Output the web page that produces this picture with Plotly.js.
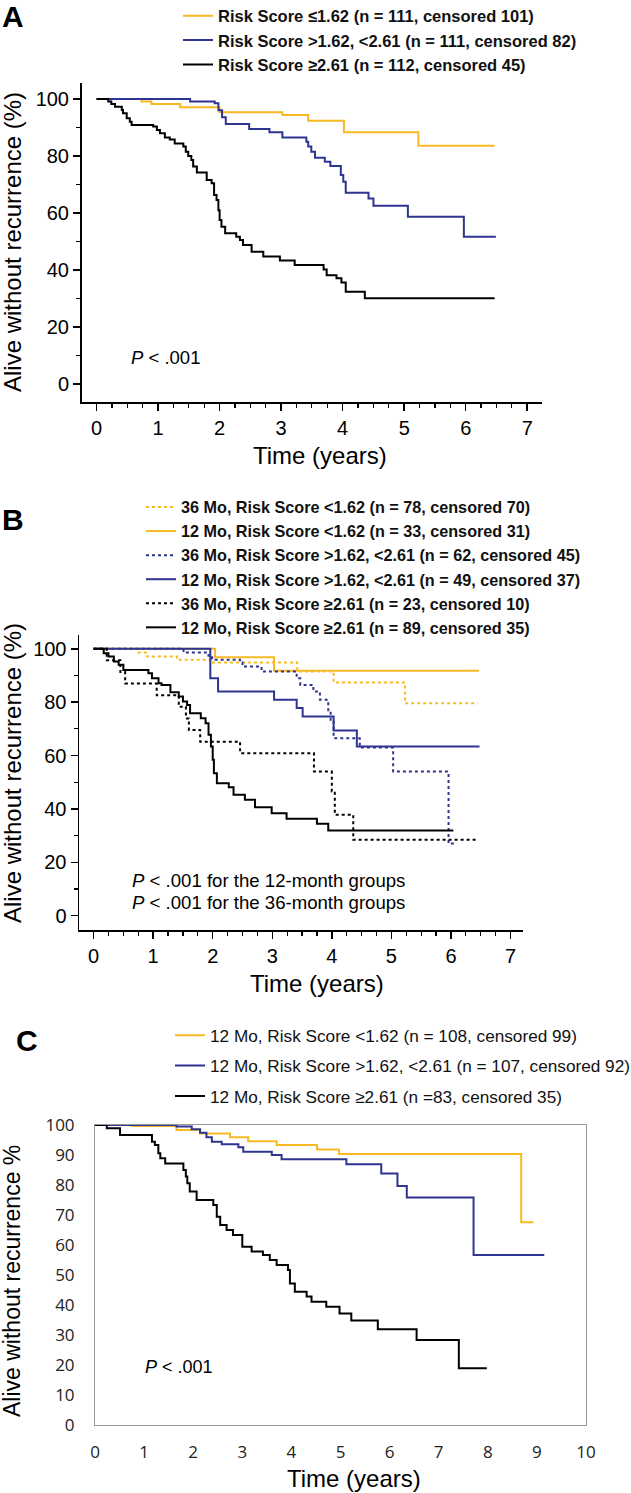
<!DOCTYPE html>
<html><head><meta charset="utf-8">
<script src="https://cdn.plot.ly/plotly-3.0.1.min.js"></script>
<style>html,body{margin:0;padding:0;background:#fff}#chart{width:631px;height:1493px}</style>
</head><body><div id="chart"></div>
<script>
// ---------- Panel A ----------
const A_lowT  = [0,0.73,0.89,1.36,2.0,3.02,3.44,4.02,5.23,6.47];
const A_lowS  = [100,99.1,98.2,97.1,95.3,94.4,92.4,88.3,83.6,83.6];
const A_midT  = [0,1.52,1.92,1.98,2.04,2.1,2.48,2.81,3.02,3.41,3.44,3.49,3.55,3.71,3.8,3.97,4.01,4.05,4.42,4.5,5.06,5.97,6.49];
const A_midS  = [100,99.1,98.5,96.0,93.6,91.2,89.5,88.3,86.5,85,83.3,81.5,79.4,78,76.5,73.3,71,67.1,65.1,62.5,58.7,51.7,51.7];
const A_highT = [0,0.19,0.24,0.3,0.41,0.43,0.49,0.54,0.57,0.92,0.98,1.03,1.11,1.19,1.27,1.41,1.45,1.49,1.54,1.57,1.63,1.79,1.87,1.91,1.95,1.98,2.0,2.03,2.09,2.27,2.33,2.38,2.52,2.71,2.98,3.22,3.69,3.74,3.9,3.98,4.05,4.36,6.47];
const A_highS = [100,99.1,98.2,97.3,96.1,95,93.2,92,90.9,90.3,89.1,88,86.5,85.8,84.4,83.3,81.5,80,78.6,76.3,74.2,71.6,70.4,66.3,64.6,61,57.5,55.2,52.9,51.7,50.5,48.8,46.4,44.7,43.3,41.8,40.2,38.2,37.1,35.6,32.4,30.1,30.1];
const A_names = ["Risk Score ≤1.62 (n = 111, censored 101)",
                 "Risk Score &gt;1.62, &lt;2.61 (n = 111, censored 82)",
                 "Risk Score ≥2.61 (n = 112, censored 45)"];
const A_xTicks = [0,1,2,3,4,5,6,7];
const A_yTicks = [0,20,40,60,80,100];

// ---------- Panel B ----------
const B_low36T  = [0,0.75,0.9,1.4,1.96,3.42,4.03,5.23,6.45];
const B_low36S  = [100,98.6,97.1,95.9,94.9,91.5,87.4,79.6,79.6];
const B_low12T  = [0,2.04,3.03,6.47];
const B_low12S  = [100,96.9,91.8,91.8];
const B_mid36T  = [0,1.51,1.93,1.99,2.46,2.5,2.82,3.41,3.47,3.69,3.8,3.94,3.98,4.03,4.47,5.03,5.96,6.05];
const B_mid36S  = [100,98.6,97.4,95.9,94.9,93.4,91.5,89,86.5,84,80.9,76.5,72.8,66.5,63,54,27,27];
const B_mid12T  = [0,1.96,2.09,3.03,3.41,3.51,4.03,4.42,6.48];
const B_mid12S  = [100,89.0,84.0,80.9,77.8,74.6,69.4,63.4,63.4];
const B_high36T = [0,0.22,0.45,0.53,1.06,1.43,1.55,1.6,1.79,2.46,3.7,4.0,4.05,4.36,6.46];
const B_high36S = [100,95.7,91.3,87.0,82.6,78.3,73.9,69.6,65.2,60.9,54.0,46.5,37.8,28.4,28.4];
const B_high12T = [0,0.17,0.25,0.34,0.42,0.5,0.92,0.98,1.09,1.14,1.29,1.43,1.5,1.57,1.62,1.8,1.88,1.93,1.97,2.0,2.02,2.07,2.27,2.35,2.54,2.71,2.99,3.24,3.75,3.94,6.04];
const B_high12S = [100,98.4,97.1,95.3,94,92.1,90.9,89,87.1,86.5,83.7,82.1,80.3,79,75.9,74,72.1,67.8,63.4,58.4,53.4,49.6,48.1,45.3,43.4,40.6,38.4,36.3,34.4,31.9,31.9];
const B_names = ["36 Mo, Risk Score &lt;1.62 (n = 78, censored 70)",
                 "12 Mo, Risk Score &lt;1.62 (n = 33, censored 31)",
                 "36 Mo, Risk Score &gt;1.62, &lt;2.61 (n = 62, censored 45)",
                 "12 Mo, Risk Score &gt;1.62, &lt;2.61 (n = 49, censored 37)",
                 "36 Mo, Risk Score ≥2.61 (n = 23, censored 10)",
                 "12 Mo, Risk Score ≥2.61 (n = 89, censored 35)"];
const B_xTicks = [0,1,2,3,4,5,6,7];
const B_yTicks = [0,20,40,60,80,100];

// ---------- Panel C ----------
const C_lowT  = [0,0.75,1.66,2.14,2.75,3.12,3.7,4.52,4.97,8.68,8.93];
const C_lowS  = [100,99.7,98.3,97.2,95.9,94.6,93.3,91.8,90.3,67.6,67.6];
const C_midT  = [0,1.66,1.97,2.14,2.27,2.38,2.58,2.92,3.02,3.6,3.8,5.12,5.83,6.16,6.35,7.71,9.15];
const C_midS  = [100,99.5,98.6,97.4,95.9,94.4,93.6,92.6,91.1,90.0,88.6,86.9,83.8,79.7,75.8,56.7,56.7];
const C_highT = [0,0.24,0.51,1.16,1.22,1.29,1.33,1.43,1.8,1.85,1.88,1.93,2.07,2.41,2.48,2.55,2.68,2.81,3.0,3.19,3.42,3.56,3.7,3.93,3.97,4.07,4.31,4.41,4.71,4.98,5.22,5.76,6.55,7.41,7.98];
const C_highS = [100,98.9,96.7,94.4,93.3,90.6,88.9,87.2,85,82.8,80.6,77.8,75,73.3,69.4,66.7,65,63.3,59.4,57.8,56.7,55,53.3,51.7,47.2,44.4,42.8,41.1,39.4,37.2,34.8,31.9,28.3,18.9,18.9];
const C_names = ["12 Mo, Risk Score &lt;1.62 (n = 108, censored 99)",
                 "12 Mo, Risk Score &gt;1.62, &lt;2.61 (n = 107, censored 92)",
                 "12 Mo, Risk Score ≥2.61 (n =83, censored 35)"];
const C_xTicks = [0,1,2,3,4,5,6,7,8,9,10];
const C_yTicks = [0,10,20,30,40,50,60,70,80,90,100];

const YEL = '#F7B924', BLU = '#2E3590', BLK = '#000000';
const ARIAL = 'Liberation Sans, Arial, sans-serif';

function km(x, y, name, color, dash, xa, ya, leg, grp) {
  return {type:'scatter', mode:'lines', x:x, y:y, name:name, xaxis:xa, yaxis:ya, legend:leg,
          legendgroup: grp || undefined,
          line:{shape:'hv', width:2, color:color, dash:dash}, hoverinfo:'skip'};
}

const data = [
  km(A_lowT, A_lowS, A_names[0], YEL, 'solid', 'x', 'y', 'legend'),
  km(A_midT, A_midS, A_names[1], BLU, 'solid', 'x', 'y', 'legend'),
  km(A_highT, A_highS, A_names[2], BLK, 'solid', 'x', 'y', 'legend'),

  km(B_low36T, B_low36S, B_names[0], YEL, 'dot', 'x2', 'y2', 'legend2'),
  km(B_low12T, B_low12S, B_names[1], YEL, 'solid', 'x2', 'y2', 'legend2'),
  km(B_mid36T, B_mid36S, B_names[2], BLU, 'dot', 'x2', 'y2', 'legend2'),
  km(B_mid12T, B_mid12S, B_names[3], BLU, 'solid', 'x2', 'y2', 'legend2'),
  km(B_high36T, B_high36S, B_names[4], BLK, 'dot', 'x2', 'y2', 'legend2'),
  km(B_high12T, B_high12S, B_names[5], BLK, 'solid', 'x2', 'y2', 'legend2'),

  km(C_lowT, C_lowS, C_names[0], YEL, 'solid', 'x3', 'y3', 'legend3', 'c1'),
  km(C_midT, C_midS, C_names[1], BLU, 'solid', 'x3', 'y3', 'legend3', 'c2'),
  km(C_highT, C_highS, C_names[2], BLK, 'solid', 'x3', 'y3', 'legend3', 'c3')
];

const W = 631, H = 1493;
const px = v => v / W;
const py = v => 1 - v / H;

function kmX(dom, rng, ticks) {
  return {domain:dom, range:rng, anchor:null, showline:true, linecolor:'#000', linewidth:1.5,
          ticks:'outside', ticklen:7, tickwidth:1.5, tickcolor:'#000',
          tickmode:'array', tickvals:ticks, ticktext:ticks.map(String),
          minor:{dtick:0.25, tick0:0, ticks:'outside', ticklen:4, tickwidth:1.2, tickcolor:'#000', showgrid:false},
          showgrid:false, zeroline:false, fixedrange:true,
          tickfont:{family:ARIAL, size:20, color:'#000'}};
}
function kmY(dom, rng, ticks) {
  return {domain:dom, range:rng, showline:true, linecolor:'#000', linewidth:1.5,
          ticks:'outside', ticklen:7, tickwidth:1.5, tickcolor:'#000',
          tickmode:'array', tickvals:ticks, ticktext:ticks.map(String),
          minor:{dtick:10, tick0:0, ticks:'outside', ticklen:4, tickwidth:1.2, tickcolor:'#000', showgrid:false},
          showgrid:false, zeroline:false, fixedrange:true,
          tickfont:{family:ARIAL, size:20, color:'#000'}};
}

const xA = kmX([px(81.5), px(542)], [-0.245, 7.24], A_xTicks); xA.anchor = 'y';
const yA = kmY([py(402), py(83)], [-6.3, 105.6], A_yTicks); yA.anchor = 'x';
const xB = kmX([px(79), px(523)], [-0.245, 7.21], B_xTicks); xB.anchor = 'y2';
const yB = kmY([py(930), py(635)], [-5.4, 105.2], B_yTicks); yB.anchor = 'x2';

const cTickFont = {family:'Open Sans, Liberation Sans, sans-serif', size:17, color:'#222'};
const xC = {domain:[px(95), px(586)], range:[0,10], anchor:'y3', showline:true, mirror:true,
            linecolor:'#999', linewidth:1, ticks:'', tickmode:'array', tickvals:C_xTicks,
            ticktext:C_xTicks.map(String), ticklabelstandoff:12,
            showgrid:false, zeroline:false, fixedrange:true, tickfont:cTickFont};
const yC = {domain:[py(1425), py(1125)], range:[0,100], anchor:'x3', showline:true, mirror:true,
            linecolor:'#999', linewidth:1, ticks:'', tickmode:'array', tickvals:C_yTicks,
            ticktext:C_yTicks.map(String), ticklabelstandoff:16,
            showgrid:false, zeroline:false, fixedrange:true, tickfont:cTickFont};

function ann(text, x, y, size, opts) {
  return Object.assign({text:text, xref:'paper', yref:'paper', x:px(x), y:py(y),
    xanchor:'center', yanchor:'middle', showarrow:false,
    font:{family:ARIAL, size:size, color:'#000'}}, opts || {});
}

const annotations = [
  ann('<b>A</b>', 0, 17, 30, {xanchor:'left'}),
  ann('<b>B</b>', 0, 519, 30, {xanchor:'left'}),
  ann('<b>C</b>', 14, 1040, 30, {xanchor:'left'}),

  ann('Alive without recurrence (%)', 12, 242, 24, {textangle:-90}),
  ann('Time (years)', 320, 455, 24),
  ann('<i>P</i> &lt; .001', 129, 357, 18.5, {xanchor:'left'}),

  ann('Alive without recurrence (%)', 12, 773, 24, {textangle:-90}),
  ann('Time (years)', 317, 983, 24),
  ann('<i>P</i> &lt; .001 for the 12-month groups', 130, 880, 18.6, {xanchor:'left'}),
  ann('<i>P</i> &lt; .001 for the 36-month groups', 130, 902, 18.6, {xanchor:'left'}),

  ann('Alive without recurrence %', 12, 1281, 23, {textangle:-90}),
  ann('Time (years)', 354, 1478, 24),
  ann('<i>P</i> &lt; .001', 143, 1367, 18, {xanchor:'left'})
];

const layout = {
  width:W, height:H, margin:{l:0, r:0, t:0, b:0, autoexpand:false},
  paper_bgcolor:'#fff', plot_bgcolor:'rgba(0,0,0,0)', showlegend:true,
  xaxis:xA, yaxis:yA, xaxis2:xB, yaxis2:yB, xaxis3:xC, yaxis3:yC,
  legend:{x:px(178), y:py(-1.6), xanchor:'left', yanchor:'top',
          font:{family:ARIAL, size:16.5, weight:'bold', color:'#111'},
          bgcolor:'rgba(0,0,0,0)', borderwidth:0, traceorder:'normal'},
  legend2:{x:px(141), y:py(490), xanchor:'left', yanchor:'top',
          font:{family:ARIAL, size:16.2, weight:'bold', color:'#111'},
          bgcolor:'rgba(0,0,0,0)', borderwidth:0, traceorder:'normal'},
  legend3:{x:px(170), y:py(1017.5), xanchor:'left', yanchor:'top',
          font:{family:ARIAL, size:17.2, color:'#111'}, tracegroupgap:5,
          bgcolor:'rgba(0,0,0,0)', borderwidth:0},
  annotations:annotations
};

Plotly.newPlot('chart', data, layout, {staticPlot:true, displayModeBar:false});
</script>
</body></html>
